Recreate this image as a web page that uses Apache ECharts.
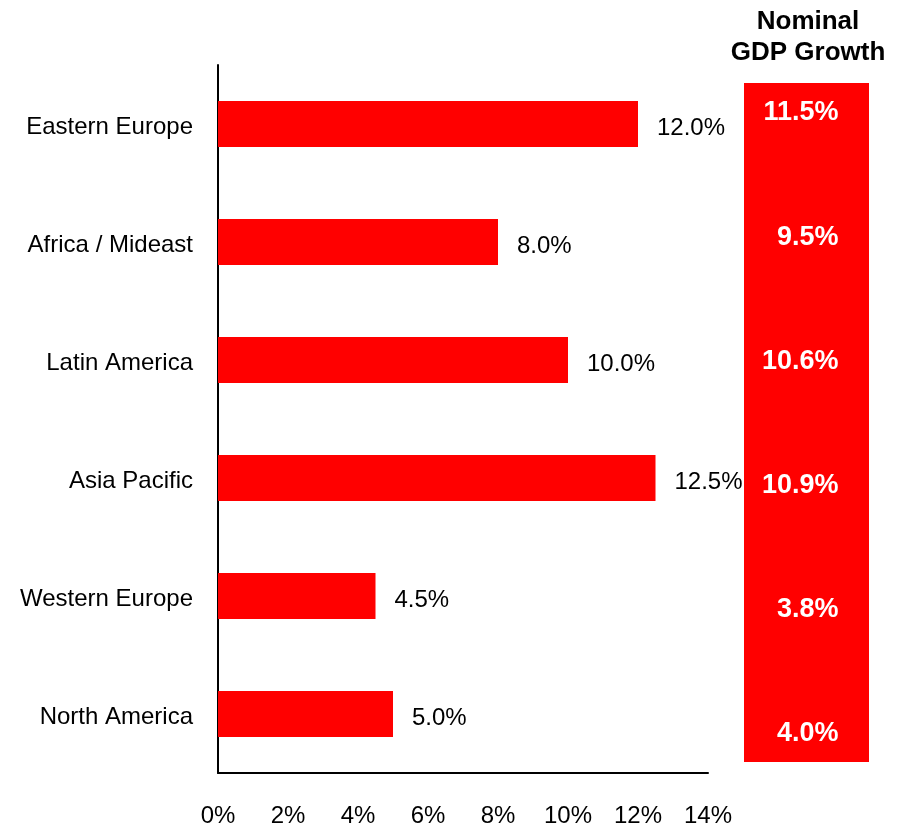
<!DOCTYPE html>
<html>
<head>
<meta charset="utf-8">
<script src="https://cdn.jsdelivr.net/npm/echarts@6/dist/echarts.min.js"></script>
<style>
  html, body { margin: 0; padding: 0; background: #fff; }
  #chart { width: 900px; height: 828px; }
</style>
</head>
<body>
<div id="chart"></div>
<script>
// Regions, top to bottom
const regions = ['Eastern Europe', 'Africa / Mideast', 'Latin America', 'Asia Pacific', 'Western Europe', 'North America'];
// Growth shown by the bars (%)
const growthValues = [12.0, 8.0, 10.0, 12.5, 4.5, 5.0];
// Nominal GDP growth by region (%)
const gdpGrowth = [11.5, 9.5, 10.6, 10.9, 3.8, 4.0];
// Value axis ticks (%)
const xTicks = [0, 2, 4, 6, 8, 10, 12, 14];

const FONT = '"Liberation Sans", Arial, sans-serif';
const RED = '#ff0000';

const chart = echarts.init(document.getElementById('chart'), null, { renderer: 'canvas' });

chart.setOption({
  animation: false,
  backgroundColor: '#ffffff',
  title: {
    text: 'Nominal\nGDP Growth',
    left: 803,
    top: 1,
    textAlign: 'center',
    textStyle: {
      fontFamily: FONT,
      fontSize: 26,
      fontWeight: 'bold',
      color: '#000',
      lineHeight: 31,
      align: 'center'
    }
  },
  graphic: [{
    type: 'rect',
    left: 744,
    top: 83,
    shape: { width: 125, height: 679 },
    style: { fill: RED },
    z: 0
  }],
  grid: [
    { left: 218, top: 65, width: 490, height: 708, containLabel: false },
    { left: 744, top: 113, width: 125, height: 621, containLabel: false }
  ],
  xAxis: [{
    gridIndex: 0,
    type: 'value',
    min: xTicks[0],
    max: xTicks[xTicks.length - 1],
    interval: 2,
    axisLine: { show: true, lineStyle: { color: '#000', width: 2 } },
    axisTick: { show: false },
    splitLine: { show: false },
    axisLabel: {
      formatter: v => v + '%',
      fontFamily: FONT,
      fontSize: 24,
      color: '#000',
      margin: 31
    }
  }, {
    gridIndex: 1,
    type: 'value',
    min: 0,
    max: 1,
    show: false
  }],
  yAxis: [{
    gridIndex: 0,
    type: 'category',
    data: regions,
    inverse: true,
    axisLine: { show: true, lineStyle: { color: '#000', width: 2 } },
    axisTick: { show: false },
    axisLabel: {
      fontFamily: FONT,
      fontSize: 24,
      color: '#000',
      margin: 25,
      formatter: v => '{c|' + v + '}',
      rich: {
        c: {
          fontFamily: FONT,
          fontSize: 24,
          color: '#000',
          padding: [7, 0, 0, 0]
        }
      }
    }
  }, {
    gridIndex: 1,
    type: 'category',
    data: regions,
    inverse: true,
    boundaryGap: false,
    show: false
  }],
  series: [{
    type: 'bar',
    xAxisIndex: 0,
    yAxisIndex: 0,
    data: growthValues,
    barWidth: 46,
    itemStyle: { color: RED },
    label: {
      show: true,
      position: 'right',
      distance: 19,
      offset: [0, 4],
      formatter: p => p.value.toFixed(1) + '%',
      fontFamily: FONT,
      fontSize: 24,
      color: '#000'
    },
    z: 2
  }, {
    type: 'scatter',
    xAxisIndex: 1,
    yAxisIndex: 1,
    data: gdpGrowth.map((v, i) => [0.5, regions[i], v]),
    symbolSize: 1,
    itemStyle: { color: 'rgba(0,0,0,0)', opacity: 1 },
    label: {
      show: true,
      position: 'inside',
      align: 'right',
      offset: [32, 0],
      formatter: p => p.value[2].toFixed(1) + '%',
      fontFamily: FONT,
      fontSize: 27,
      fontWeight: 'bold',
      color: '#ffffff',
      opacity: 1
    },
    emphasis: { disabled: true },
    z: 3
  }]
});
</script>
</body>
</html>
